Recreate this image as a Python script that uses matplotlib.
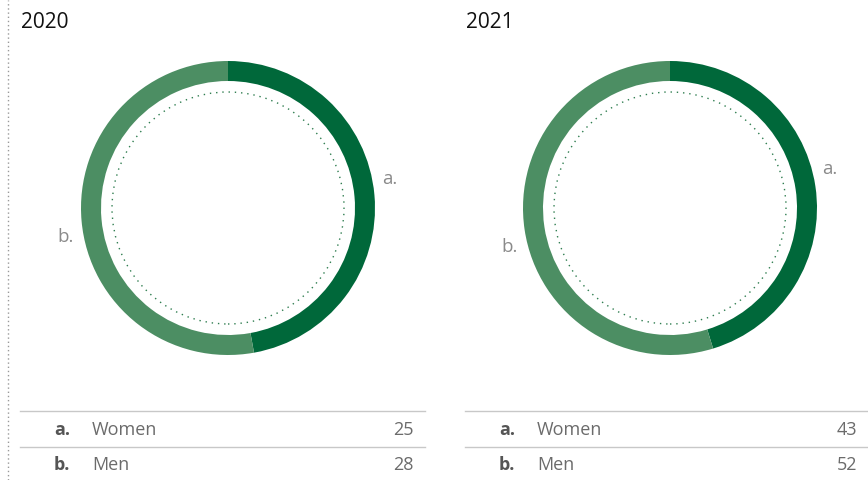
import matplotlib.pyplot as plt
from matplotlib.lines import Line2D
import numpy as np

plt.rcParams['font.family'] = ['Open Sans', 'DejaVu Sans']

years = ["2020", "2021"]
letters = ["a.", "b."]
categories = ["Women", "Men"]
values_2020 = [25, 28]
values_2021 = [43, 52]
all_values = [values_2020, values_2021]

colors = ["#00683a", "#4c8e63"]
W, H = 868, 480


def fx(x):
    return x / W


def fy(y):
    return 1 - y / H


fig = plt.figure(figsize=(W / 100, H / 100), dpi=100)

# dotted separator at the far left
fig.add_artist(Line2D([fx(8), fx(8)], [0, 1], color="#999999", lw=1,
                      linestyle=(0, (1, 2)), transform=fig.transFigure))

centers = [228, 670]
outer = 147
half = 176
panel_left = [20, 465]
panel_right = [425, 868]

for k, (year, vals) in enumerate(zip(years, all_values)):
    cx, cy = centers[k], 208
    ax = fig.add_axes([fx(cx - half), fy(cy + half), 2 * half / W, 2 * half / H])
    ax.pie(vals, colors=colors, startangle=90, counterclock=False, radius=1,
           wedgeprops=dict(width=20 / outer, linewidth=0))
    ax.add_patch(plt.Circle((0, 0), 116 / outer, fill=False, color="#2e7d4f",
                            lw=1, linestyle=(0, (1, 3.5))))
    # segment labels
    total = sum(vals)
    start = 0
    for lab, v in zip(letters, vals):
        mid = (start + v / 2) / total * 360 - 5
        start += v
        a = np.deg2rad(mid)
        ax.text(1.12 * np.sin(a), 1.12 * np.cos(a), lab, fontsize=13.5,
                color="#8a8a8a", ha="center", va="center")
    ax.set_xlim(-half / outer, half / outer)
    ax.set_ylim(-half / outer, half / outer)
    ax.axis("off")

    fig.text(fx(panel_left[k] + 1), fy(22), year, fontsize=15, color="#111111",
             ha="left", va="center")

    # table below
    for yl in [411, 447]:
        fig.add_artist(Line2D([fx(panel_left[k]), fx(panel_right[k])], [fy(yl), fy(yl)],
                              color="#c8c8c8", lw=1, transform=fig.transFigure))
    for r, (lab, cat, v) in enumerate(zip(letters, categories, vals)):
        yy = fy(430 + 35 * r)
        fig.text(fx(panel_left[k] + 34), yy, lab, fontsize=13, color="#555555",
                 fontweight="bold", ha="left", va="center")
        fig.text(fx(panel_left[k] + 72), yy, cat, fontsize=13, color="#6b6b6b",
                 ha="left", va="center")
        fig.text(fx(panel_right[k] - 11), yy, str(v), fontsize=13, color="#6b6b6b",
                 ha="right", va="center")

fig.savefig("out.png", dpi=100)
